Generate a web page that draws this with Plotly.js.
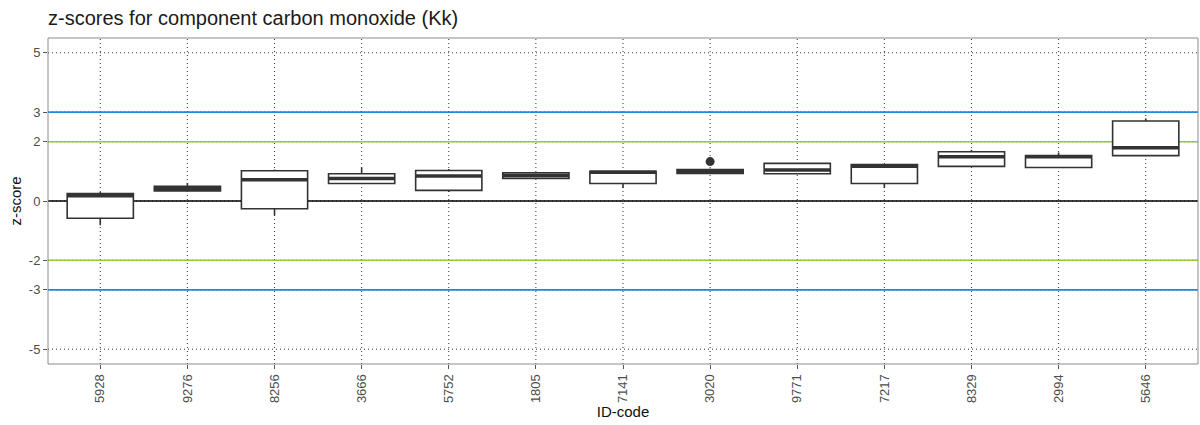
<!DOCTYPE html>
<html>
<head>
<meta charset="utf-8">
<script src="https://cdn.plot.ly/plotly-3.0.1.min.js"></script>
<style>html,body{margin:0;padding:0;background:#fff;}#chart{width:1200px;height:425px;}</style>
</head>
<body>
<div id="chart"></div>
<script>
const idCodes = ["5928","9276","8256","3666","5752","1805","7141","3020","9771","7217","8329","2994","5646"];
const lowerWhisker = [-0.82, 0.34, -0.49, 0.59, 0.30, 0.76, 0.44, 0.93, 0.92, 0.44, 1.17, 1.13, 1.53];
const q1Values     = [-0.58, 0.34, -0.26, 0.59, 0.36, 0.76, 0.59, 0.93, 0.92, 0.59, 1.17, 1.13, 1.53];
const medianValues = [ 0.18, 0.42,  0.72, 0.76, 0.84, 0.85, 0.97, 1.00, 1.05, 1.17, 1.49, 1.49, 1.80];
const q3Values     = [ 0.25, 0.50,  1.02, 0.92, 1.03, 0.95, 1.00, 1.06, 1.27, 1.23, 1.66, 1.53, 2.70];
const upperWhisker = [ 0.30, 0.61,  1.06, 1.14, 1.08, 0.95, 1.00, 1.10, 1.27, 1.23, 1.73, 1.64, 2.78];
const outlierIds = ["3020"];
const outlierValues = [1.33];
const limitLineValues = [3, -3, 2, -2, 0];
const limitLineColors = ["#1f8bd8", "#1f8bd8", "#94c93d", "#94c93d", "#000000"];
const yTicks = [-5, -3, -2, 0, 2, 3, 5];

const boxTrace = {
  type: "box", x: idCodes,
  q1: q1Values, median: medianValues, q3: q3Values,
  lowerfence: lowerWhisker, upperfence: upperWhisker,
  fillcolor: "#ffffff", line: {color: "#333333", width: 1.6},
  whiskerwidth: 0, boxpoints: false, hoverinfo: "skip", showlegend: false
};
const medianTrace = {
  type: "box", x: idCodes,
  q1: medianValues, median: medianValues, q3: medianValues,
  lowerfence: medianValues, upperfence: medianValues,
  fillcolor: "rgba(0,0,0,0)", line: {color: "#333333", width: 3.5},
  whiskerwidth: 0, boxpoints: false, hoverinfo: "skip", showlegend: false
};
const outlierTrace = {
  type: "scatter", mode: "markers", x: outlierIds, y: outlierValues,
  marker: {color: "#333333", size: 9}, showlegend: false, hoverinfo: "skip"
};

const gridDash = "1px,3px";
const shapes = [];
idCodes.forEach((c, i) => shapes.push({
  type: "line", xref: "x", x0: i, x1: i, yref: "paper", y0: 0, y1: 1,
  line: {color: "#333333", width: 1, dash: gridDash}, layer: "below"
}));
yTicks.forEach(v => shapes.push({
  type: "line", xref: "paper", x0: 0, x1: 1, yref: "y", y0: v, y1: v,
  line: {color: "#333333", width: 1, dash: gridDash}, layer: "below"
}));
limitLineValues.forEach((v, i) => shapes.push({
  type: "line", xref: "paper", x0: 0, x1: 1, yref: "y", y0: v, y1: v,
  line: {color: limitLineColors[i], width: 1.7}, layer: "below"
}));
shapes.push({type: "rect", xref: "paper", yref: "paper", x0: 0, x1: 1, y0: 0, y1: 1,
  line: {color: "#8c8c8c", width: 1}, layer: "above"});

const layout = {
  width: 1200, height: 425,
  margin: {l: 48, r: 2, t: 38, b: 61},
  paper_bgcolor: "#ffffff", plot_bgcolor: "#ffffff",
  font: {family: "Liberation Sans, Arial, sans-serif", color: "#333333"},
  title: {text: "z-scores for component carbon monoxide (Kk)", x: 48/1200, xref: "container", xanchor: "left",
    y: 1 - 18/425, yref: "container", yanchor: "middle",
    font: {size: 20, color: "#1a1a1a"}},
  boxmode: "overlay", boxgap: 0.24, boxgroupgap: 0,
  xaxis: {
    type: "category", categoryorder: "array", categoryarray: idCodes,
    range: [-0.6, 12.6], tickangle: -90,
    showgrid: false,
    ticks: "outside", ticklen: 4, tickcolor: "#555555",
    tickfont: {size: 13, color: "#4d4d4d"},
    showline: false, zeroline: false,
    title: {text: "ID-code", font: {size: 15, color: "#111111"}, standoff: 4}
  },
  yaxis: {
    range: [-5.5, 5.5], tickvals: yTicks, ticktext: yTicks.map(String),
    showgrid: false,
    ticks: "outside", ticklen: 4, tickcolor: "#555555",
    tickfont: {size: 13, color: "#4d4d4d"},
    showline: false, zeroline: false,
    title: {text: "z-score", font: {size: 15, color: "#111111"}, standoff: 3}
  },
  shapes: shapes
};

Plotly.newPlot("chart", [boxTrace, medianTrace, outlierTrace], layout, {displayModeBar: false, staticPlot: true});
</script>
</body>
</html>
